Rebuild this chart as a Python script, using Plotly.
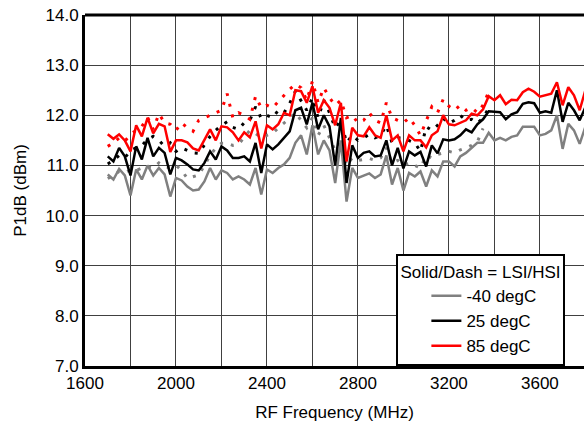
import plotly.graph_objects as go

freq = list(range(1700, 3801, 25))

r_lsi = [11.62, 11.53, 11.62, 11.50, 11.28, 11.80, 11.58, 11.95, 11.64, 11.83,
         11.78, 11.27, 11.50, 11.50, 11.46, 11.34, 11.30, 11.50, 11.72, 11.50,
         11.78, 11.76, 11.66, 11.50, 11.66, 11.56, 11.88, 11.34, 11.80, 11.72,
         11.82, 12.05, 12.00, 12.50, 12.48, 12.25, 12.58, 12.05, 12.30, 12.15,
         11.80, 12.25, 11.08, 11.75, 11.60, 11.58, 11.76, 11.60, 11.55, 12.00,
         11.50, 11.60, 11.28, 11.60, 11.50, 11.50, 11.36, 11.60, 11.68, 12.00,
         11.82, 11.80, 11.85, 11.90, 12.03, 12.00, 12.12, 12.38, 12.30, 12.40,
         12.22, 12.31, 12.30, 12.46, 12.53, 12.47, 12.37, 12.40, 12.43, 12.66,
         12.20, 12.56, 12.40, 12.10, 12.50]

b_lsi = [11.18, 11.08, 11.35, 11.18, 10.80, 11.38, 11.12, 11.55, 11.18, 11.35,
         11.25, 10.82, 11.15, 11.10, 11.02, 10.92, 10.90, 11.05, 11.28, 11.12,
         11.38, 11.30, 11.15, 11.15, 11.18, 11.08, 11.45, 10.85, 11.42, 11.32,
         11.42, 11.55, 11.68, 12.10, 12.15, 11.82, 12.25, 11.72, 12.00, 11.78,
         11.00, 11.95, 10.65, 11.40, 11.15, 11.25, 11.28, 11.18, 11.20, 11.50,
         11.00, 11.35, 10.94, 11.28, 11.20, 11.27, 10.98, 11.40, 11.24, 11.52,
         11.50, 11.52, 11.60, 11.72, 11.66, 11.82, 11.92, 12.08, 12.07, 12.06,
         11.92, 12.02, 12.06, 12.23, 12.26, 12.24, 12.05, 12.08, 12.05, 12.50,
         11.87, 12.25, 12.10, 11.90, 12.16]

g_lsi = [10.82, 10.72, 10.93, 10.80, 10.40, 10.92, 10.72, 11.00, 10.80, 10.95,
         10.82, 10.38, 10.75, 10.70, 10.58, 10.50, 10.52, 10.68, 10.95, 10.72,
         10.90, 10.85, 10.72, 10.78, 10.72, 10.62, 10.95, 10.42, 10.92, 10.85,
         10.95, 11.02, 11.15, 11.45, 11.60, 11.22, 11.80, 11.22, 11.50, 11.30,
         10.65, 11.50, 10.28, 10.95, 10.75, 10.80, 10.84, 10.75, 10.82, 11.20,
         10.62, 10.95, 10.50, 10.85, 10.78, 10.88, 10.58, 10.90, 10.78, 11.08,
         11.08, 10.98, 11.18, 11.25, 11.35, 11.45, 11.45, 11.65, 11.50, 11.55,
         11.50, 11.57, 11.60, 11.77, 11.77, 11.77, 11.60, 11.63, 11.70, 12.00,
         11.33, 11.83, 11.70, 11.43, 11.77]

r_hsi = [11.38, 11.45, 11.55, 11.48, 11.62, 11.70, 11.78, 11.96, 11.72, 12.03,
         11.85, 11.82, 11.70, 11.85, 11.75, 11.68, 11.90, 11.95, 12.00, 12.05,
         12.10, 12.43, 11.95, 12.05, 12.00, 11.92, 12.38, 12.15, 12.20, 12.15,
         12.28, 12.40, 12.52, 12.62, 12.55, 12.30, 12.68, 12.25, 12.55, 12.35,
         12.20, 12.30, 11.95, 12.00, 11.85, 11.90, 12.05, 11.90, 11.85, 12.25,
         11.95, 11.90, 11.85, 11.95, 11.80, 11.60, 11.90, 12.17, 12.05, 12.32,
         12.18, 12.10, 12.20, 12.10, 12.15, 12.05, 12.20, 12.47]

b_hsi = [11.03, 11.10, 11.20, 11.15, 11.30, 11.35, 11.40, 11.52, 11.58, 11.50,
         11.38, 11.45, 11.28, 11.35, 11.30, 11.25, 11.24, 11.40, 11.58, 11.70,
         11.80, 11.87, 11.76, 11.72, 11.85, 11.90, 12.17, 11.94, 12.00, 11.95,
         12.10, 12.05, 12.24, 12.48, 12.30, 12.10, 12.35, 11.95, 12.30, 12.05,
         11.75, 11.90, 11.45, 11.60, 11.50, 11.55, 11.62, 11.55, 11.60, 11.80,
         11.45, 11.55, 11.54, 11.50, 11.45, 11.28, 11.77, 11.70, 11.80, 11.94,
         11.84, 11.90, 12.00, 11.90, 11.92, 11.84, 11.95, 12.14]

g_hsi = [10.74, 10.80, 10.88, 10.85, 10.91, 10.90, 10.95, 10.98, 10.95, 11.05,
         10.98, 10.95, 11.00, 10.90, 10.74, 10.78, 10.81, 11.00, 11.20, 11.35,
         11.44, 11.44, 11.40, 11.42, 11.55, 11.70, 11.64, 11.55, 11.60, 11.64,
         11.75, 11.84, 11.94, 12.05, 11.90, 11.75, 11.95, 11.60, 11.80, 11.55,
         11.30, 11.45, 11.00, 11.15, 11.10, 11.12, 11.14, 11.10, 11.15, 11.35,
         11.05, 11.10, 11.00, 11.05, 11.00, 10.95, 11.20, 11.15, 11.22, 11.25,
         11.28, 11.25, 11.31, 11.35, 11.40, 11.47, 11.74]

x_ticks = [1600, 2000, 2400, 2800, 3200, 3600]
y_ticks = [7, 8, 9, 10, 11, 12, 13, 14]

GREY = "#808080"
BLACK = "#000000"
RED = "#ff0000"
FONT = "Liberation Sans, Arial, sans-serif"

fig = go.Figure()

for ys, col in [(g_hsi, GREY), (b_hsi, BLACK), (r_hsi, RED)]:
    fig.add_trace(go.Scatter(
        x=freq[:len(ys)], y=ys, mode="lines", showlegend=False,
        line=dict(color=col, width=3, dash="3px,8px"), hoverinfo="skip"))

for ys, col, name in [(g_lsi, GREY, "-40 degC"), (b_lsi, BLACK, "25 degC"),
                      (r_lsi, RED, "85 degC")]:
    fig.add_trace(go.Scatter(
        x=freq[:len(ys)], y=ys, mode="lines", name=name,
        line=dict(color=col, width=2.5)))

fig.update_layout(
    width=584, height=422,
    margin=dict(l=85, r=0, t=15, b=56, autoexpand=False),
    paper_bgcolor="white", plot_bgcolor="white",
    font=dict(family=FONT, size=17, color="#000"),
    showlegend=True,
    legend=dict(
        x=0.624, y=0, xanchor="left", yanchor="bottom",
        bgcolor="white", bordercolor="#000", borderwidth=2,
        font=dict(size=17, family=FONT),
        title=dict(text="Solid/Dash = LSI/HSI", font=dict(size=17, family=FONT)),
        indentation=28, tracegroupgap=0,
        entrywidth=150, entrywidthmode="pixels",
    ),
    xaxis=dict(
        range=[1600, 3794], tickvals=x_ticks, ticktext=[str(v) for v in x_ticks],
        showgrid=True, gridcolor="#404040", gridwidth=1.2,
        showline=True, linecolor="#000", linewidth=3, mirror=False,
        ticks="", zeroline=False, automargin=False, ticklabeloverflow="allow",
        title=dict(text="RF Frequency (MHz)", font=dict(size=17)),
    ),
    yaxis=dict(
        range=[7, 14], tickvals=y_ticks, ticktext=[f"{v:.1f}" for v in y_ticks],
        showgrid=True, gridcolor="#404040", gridwidth=1.2,
        showline=True, linecolor="#000", linewidth=3,
        ticks="", zeroline=False, automargin=False, ticklabeloverflow="allow",
        title=dict(text="P1dB (dBm)", font=dict(size=17)),
    ),
)

fig.update_xaxes(minor=dict(dtick=200, tick0=1600, showgrid=True,
                            gridcolor="#404040", gridwidth=1.2))

fig.add_shape(type="line", xref="paper", yref="paper", x0=0, x1=1, y0=1, y1=1,
              line=dict(color="#000", width=3))

fig.write_html(
    "out.html",
    config={"displayModeBar": False},
    post_script="document.body.style.margin='0';document.body.style.overflow='hidden';",
)
